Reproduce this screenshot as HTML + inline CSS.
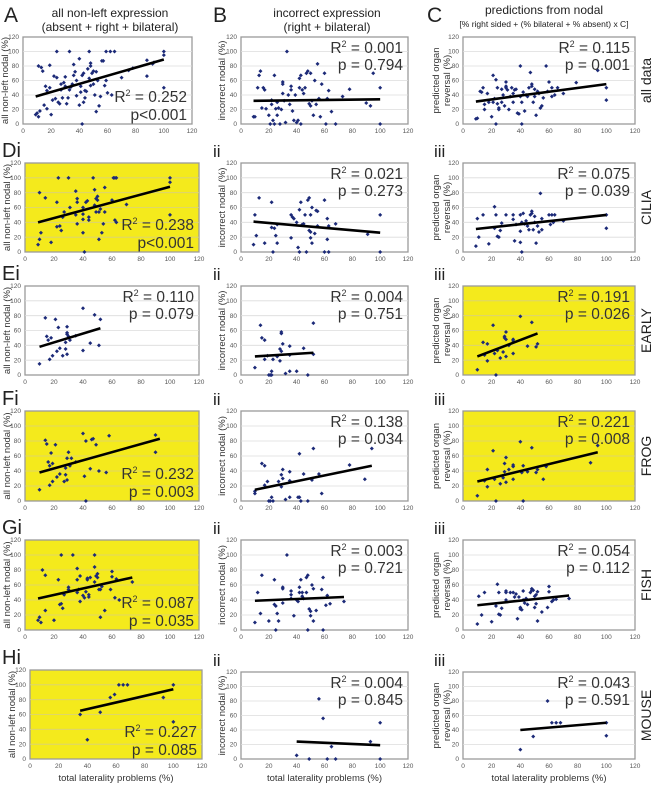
<!DOCTYPE html>
<html><head><meta charset="utf-8"><style>
html,body{margin:0;padding:0;background:#fff;}
svg{display:block;font-family:"Liberation Sans",sans-serif;}
</style></head><body>
<svg id="fig" width="659" height="785" viewBox="0 0 659 785" xmlns="http://www.w3.org/2000/svg">
<g fill="#222">
<text x="4" y="22" font-size="21">A</text>
<text x="110" y="17" font-size="12" text-anchor="middle">all non-left expression</text>
<text x="110" y="31" font-size="12" text-anchor="middle">(absent + right + bilateral)</text>
<text x="213" y="22" font-size="21">B</text>
<text x="327" y="17" font-size="12" text-anchor="middle">incorrect expression</text>
<text x="327" y="31" font-size="12" text-anchor="middle">(right + bilateral)</text>
<text x="427" y="22" font-size="21">C</text>
<text x="544" y="14" font-size="12" text-anchor="middle">predictions from nodal</text>
<text x="544" y="27" font-size="8.5" text-anchor="middle">[% right sided + (% bilateral + % absent) x C]</text>
</g>
<g id="panels"></g>
</svg>
<script>
// ---- data (x = total laterality problems %, y = panel measure %) ----
const ptsA_A=[[9,13],[10,15],[11,10],[12,18],[11,80],[13,78],[14,73],[15,26],[16,52],[17,46],[17,21],[19,81],[19,50],[20,13],[21,33],[22,66],[23,35],[24,64],[24,100],[25,30],[26,28],[27,55],[27,47],[28,36],[29,57],[30,65],[30,52],[31,28],[32,36],[33,100],[33,47],[34,51],[35,55],[36,82],[36,67],[37,72],[38,39],[38,60],[40,90],[40,26],[41,44],[41,52],[42,0],[42,67],[43,70],[43,30],[44,46],[44,36],[45,45],[46,76],[47,63],[47,100],[48,84],[48,80],[48,53],[49,70],[50,73],[50,55],[51,40],[52,72],[52,17],[53,60],[54,25],[55,38],[56,87],[57,87],[58,53],[59,100],[59,60],[60,43],[62,100],[63,40],[65,100],[70,64],[75,74],[78,77],[88,66],[88,88],[92,83],[93,85],[100,100],[100,95],[100,50]];
const ptsA_B=[[9,10],[10,10],[12,50],[13,67],[14,73],[15,22],[16,50],[17,47],[18,21],[20,12],[21,0],[22,27],[22,33],[23,5],[24,67],[24,0],[25,21],[26,30],[26,12],[27,22],[28,0],[29,20],[30,58],[30,55],[30,42],[31,32],[32,2],[33,100],[34,40],[35,27],[36,52],[36,47],[37,18],[38,5],[39,40],[40,2],[41,5],[42,50],[42,63],[43,67],[43,0],[44,47],[45,42],[46,50],[47,70],[48,73],[49,28],[50,70],[50,25],[51,32],[52,12],[53,60],[54,27],[55,83],[56,35],[57,10],[58,55],[60,70],[61,0],[62,35],[63,46],[65,17],[68,0],[73,38],[78,48],[90,29],[93,25],[95,70],[100,50],[100,0]];
const ptsA_C=[[9,7],[10,8],[12,45],[13,44],[14,50],[15,20],[15,27],[17,42],[18,30],[20,10],[21,67],[21,30],[22,35],[23,0],[23,61],[24,50],[24,28],[25,20],[25,22],[27,48],[27,30],[28,40],[29,25],[30,58],[30,50],[30,52],[31,47],[32,20],[33,38],[34,50],[35,42],[35,30],[36,47],[37,48],[38,15],[39,14],[40,80],[40,38],[41,30],[41,0],[42,44],[43,18],[44,40],[45,38],[46,50],[47,71],[48,55],[48,52],[49,30],[50,48],[50,38],[51,12],[52,45],[53,42],[54,22],[55,25],[56,36],[58,80],[59,45],[60,58],[62,50],[62,38],[64,40],[66,50],[70,42],[79,57],[94,74],[100,50],[100,33]];
const ptsD_A=[[9,10],[10,80],[10,17],[11,26],[14,73],[18,13],[22,67],[22,34],[23,100],[24,35],[25,29],[26,47],[27,54],[30,100],[31,60],[35,82],[35,50],[36,72],[36,67],[36,38],[40,60],[40,51],[40,44],[40,26],[41,0],[42,67],[43,69],[44,47],[44,43],[47,100],[48,84],[48,63],[49,54],[49,72],[50,75],[50,70],[51,17],[51,54],[52,58],[53,26],[54,38],[55,87],[55,54],[60,70],[61,100],[62,43],[62,100],[63,40],[63,100],[70,64],[100,100],[100,94],[100,50]];
const ptsD_B=[[9,10],[10,50],[11,22],[13,73],[17,12],[22,67],[22,33],[23,0],[24,32],[25,22],[26,12],[26,37],[36,19],[36,50],[37,47],[38,45],[40,40],[41,6],[42,0],[42,57],[43,67],[44,37],[45,38],[46,50],[47,0],[48,70],[49,29],[49,73],[50,19],[50,50],[50,27],[51,60],[51,12],[53,25],[54,56],[55,55],[55,35],[60,70],[60,0],[62,45],[62,17],[63,0],[63,35],[68,38],[91,24],[100,50],[100,0]];
const ptsD_C=[[9,8],[10,45],[11,20],[14,50],[18,11],[22,61],[22,32],[23,50],[24,21],[25,20],[26,29],[27,39],[30,50],[35,50],[35,44],[36,15],[37,37],[40,50],[40,28],[40,13],[41,0],[41,40],[42,52],[43,38],[44,42],[45,35],[46,30],[47,50],[48,52],[48,55],[49,30],[50,40],[50,48],[51,12],[52,35],[53,27],[54,79],[55,30],[55,45],[60,50],[61,37],[62,50],[63,40],[64,50],[70,42],[100,50],[100,32]];
const ptsE_A=[[10,15],[14,77],[15,52],[16,47],[17,21],[18,50],[19,26],[21,75],[22,32],[23,64],[24,36],[26,26],[28,35],[28,44],[29,57],[29,55],[29,65],[29,28],[30,52],[31,47],[35,53],[40,90],[40,33],[45,43],[48,81],[51,40],[52,75]];
const ptsE_B=[[10,10],[14,67],[15,50],[17,47],[17,21],[19,26],[20,0],[21,0],[22,5],[22,0],[23,21],[26,25],[28,35],[28,19],[29,56],[29,58],[29,32],[30,42],[32,2],[35,39],[35,5],[35,27],[40,5],[45,36],[48,0],[52,70],[52,28]];
const ptsE_C=[[10,7],[14,44],[15,27],[17,19],[17,42],[21,67],[22,29],[23,0],[24,33],[26,23],[28,31],[29,50],[29,52],[30,58],[30,25],[30,48],[32,40],[35,46],[35,48],[35,29],[40,79],[45,39],[48,71],[51,38],[52,42]];
const ptsF_A=[[10,15],[14,81],[15,76],[16,52],[17,47],[17,21],[18,64],[19,50],[19,26],[21,75],[22,32],[24,36],[27,26],[28,35],[28,44],[29,57],[29,28],[30,65],[31,47],[32,57],[35,52],[40,90],[41,33],[42,0],[42,80],[45,43],[46,82],[47,83],[49,75],[51,40],[56,38],[58,87],[90,88],[90,65]];
const ptsF_B=[[10,10],[10,13],[15,50],[17,47],[17,21],[19,26],[20,0],[21,0],[22,5],[23,0],[27,26],[29,35],[29,19],[30,42],[30,30],[32,2],[35,39],[35,5],[35,27],[41,5],[42,5],[42,63],[43,0],[45,36],[48,0],[51,28],[52,70],[56,36],[58,10],[78,48],[89,29],[94,70]];
const ptsF_C=[[10,7],[15,27],[17,19],[17,42],[21,67],[22,29],[23,0],[26,23],[28,31],[29,50],[29,39],[30,58],[30,25],[32,42],[35,46],[35,48],[35,29],[40,79],[41,38],[42,0],[42,47],[45,39],[48,71],[51,38],[52,42],[56,29],[58,46],[89,51],[94,74]];
const ptsG_A=[[9,13],[10,17],[11,10],[12,80],[14,73],[14,26],[20,13],[23,67],[24,34],[25,100],[25,35],[26,29],[27,47],[30,57],[30,54],[33,100],[36,82],[36,67],[36,50],[37,54],[38,72],[38,38],[40,46],[41,43],[42,51],[43,67],[43,69],[44,47],[44,44],[45,70],[48,100],[48,84],[48,64],[49,72],[50,75],[50,70],[51,54],[52,17],[52,54],[53,58],[55,26],[59,54],[60,78],[60,71],[62,43],[63,68],[65,40],[74,64]];
const ptsG_B=[[10,10],[12,50],[14,22],[15,73],[20,12],[24,67],[24,34],[25,32],[25,0],[26,22],[27,12],[30,57],[30,55],[30,36],[33,100],[36,52],[36,47],[36,42],[38,19],[40,40],[41,38],[42,50],[42,57],[43,67],[44,50],[44,45],[45,42],[47,50],[47,70],[48,0],[48,73],[49,28],[50,25],[50,19],[51,60],[52,12],[52,55],[54,26],[58,54],[59,70],[59,0],[61,33],[62,46],[64,35],[74,38]];
const ptsG_C=[[10,8],[11,45],[13,20],[15,50],[20,11],[23,32],[24,61],[25,50],[25,21],[26,20],[27,29],[30,52],[30,50],[30,40],[33,50],[35,50],[36,44],[37,48],[38,15],[39,44],[40,28],[40,30],[41,27],[42,52],[42,40],[43,36],[44,42],[45,34],[47,50],[48,55],[48,53],[49,53],[50,30],[50,45],[51,35],[51,47],[52,12],[52,51],[55,24],[59,30],[60,58],[60,51],[62,38],[63,40],[65,41],[74,42]];
const ptsH_A=[[35,60],[40,26],[49,63],[56,83],[59,87],[62,100],[65,100],[68,100],[93,83],[100,100],[100,50]];
const ptsH_B=[[40,5],[49,0],[56,83],[59,56],[62,0],[65,17],[68,0],[93,24],[100,50],[100,0]];
const ptsH_C=[[40,13],[49,31],[59,80],[62,50],[65,50],[68,50],[100,50],[100,32]];
// trend line endpoints [x1,y1,x2,y2]
const trendA=[[9,38,100,89],[9,32,100,34],[9,31,100,55]];
const trendD=[[9,40,100,88],[9,41,100,26],[9,31,100,50]];
const trendE=[[10,38,52,63],[10,25,52,30],[10,25,52,56]];
const trendF=[[10,38,93,83],[10,15,94,47],[10,26,94,65]];
const trendG=[[9,42,74,70],[10,39,74,44],[10,33,74,46]];
const trendH=[[35,65,100,94],[40,24,100,19],[40,40,100,50]];
const statsR2=[["0.252","0.001","0.115"],["0.238","0.021","0.075"],["0.110","0.004","0.191"],["0.232","0.138","0.221"],["0.087","0.003","0.054"],["0.227","0.004","0.043"]];
const statsP=[["p<0.001","p = 0.794","p = 0.001"],["p<0.001","p = 0.273","p = 0.039"],["p = 0.079","p = 0.751","p = 0.026"],["p = 0.003","p = 0.034","p = 0.008"],["p = 0.035","p = 0.721","p = 0.112"],["p = 0.085","p = 0.845","p = 0.591"]];
const xTicks=[0,20,40,60,80,100,120];
const yTicks=[0,20,40,60,80,100,120];
const rowNames=["all data","CILIA","EARLY","FROG","FISH","MOUSE"];
const rowLetters=["","D","E","F","G","H"];

const pts=[[ptsA_A,ptsA_B,ptsA_C],[ptsD_A,ptsD_B,ptsD_C],[ptsE_A,ptsE_B,ptsE_C],[ptsF_A,ptsF_B,ptsF_C],[ptsG_A,ptsG_B,ptsG_C],[ptsH_A,ptsH_B,ptsH_C]];
const trends=[trendA,trendD,trendE,trendF,trendG,trendH];
// layout
const rowsY=[[37,124],[163,252],[286,375],[411,501],[540,630],[672,759]];
const colsX=[[25,199],[241,408],[463,635]];
const yellow={"1-0":1,"2-2":1,"3-0":1,"3-2":1,"4-0":1,"5-0":1};
const bottomStats={"0-0":1,"1-0":1,"3-0":1,"4-0":1,"5-0":1};
const NS="http://www.w3.org/2000/svg";
const root=document.getElementById('panels');
function mk(tag,attrs,parent){const e=document.createElementNS(NS,tag);for(const k in attrs)e.setAttribute(k,attrs[k]);parent.appendChild(e);return e;}
for(let r=0;r<6;r++){for(let c=0;c<3;c++){
  let [x0,x1]=colsX[c];let [yT,yB]=rowsY[r];
  if(r===0&&c===0){x0=23;x1=192;}
  if(r===5&&c===0){x0=30;x1=202;yT=670;}
  const sx=v=>x0+(v/120)*(x1-x0);
  const sy=v=>yB-(v/120)*(yB-yT);
  const g=mk('g',{},root);
  
  
  const bg=mk('rect',{x:x0,y:yT,width:x1-x0,height:yB-yT,fill:yellow[r+'-'+c]?'#f4ea1c':'#fff',stroke:'#9a9a9a','stroke-width':1.3},g);
  
  
  yTicks.forEach(t=>{
    if(t>0&&t<120){const l=mk('line',{x1:x0,x2:x1,y1:sy(t),y2:sy(t),stroke:yellow[r+'-'+c]?'#d8d080':'#dcdcdc','stroke-width':0.8},g);
      
      }
    const tl=mk('text',{x:x0-4,y:sy(t)+2.2,'font-size':6.5,'text-anchor':'end',fill:'#555'},g);tl.textContent=t;
    
    
  });
  xTicks.forEach(t=>{const tl=mk('text',{x:sx(t),y:yB+9,'font-size':6.5,'text-anchor':'middle',fill:'#555'},g);tl.textContent=t;
    
    });
  pts[r][c].forEach(p=>{const d=mk('path',{d:`M${sx(p[0])-2},${sy(p[1])}L${sx(p[0])},${sy(p[1])-2}L${sx(p[0])+2},${sy(p[1])}L${sx(p[0])},${sy(p[1])+2}Z`,fill:'#1c2a78'},g);
    
    });
  const t=trends[r][c];
  const tl=mk('line',{x1:sx(t[0]),y1:sy(t[1]),x2:sx(t[2]),y2:sy(t[3]),stroke:'#000','stroke-width':2.6},g);
  
  
  const bottom=bottomStats[r+'-'+c];
  const ty1=bottom?yB-22:yT+16, ty2=bottom?yB-4:yT+33;
  const s1=mk('text',{x:x1-5,y:ty1,'font-size':15.5,'text-anchor':'end',fill:'#333'},g);
  s1.innerHTML='R<tspan dy="-6" font-size="9">2</tspan><tspan dy="6"> = '+statsR2[r][c]+'</tspan>';
  
  
  const s2=mk('text',{x:x1-5,y:ty2,'font-size':15.5,'text-anchor':'end',fill:'#333'},g);
  s2.textContent=statsP[r][c];
  
  
  // y axis title
  const cy=(yT+yB)/2;
  if(c===0){const yt=mk('text',{x:0,y:0,'font-size':9.5,'text-anchor':'middle',fill:'#333',transform:`translate(${x0-15},${cy}) rotate(-90)`},g);yt.textContent='all non-left nodal  (%)';
    
    }
  else if(c===1){const yt=mk('text',{x:0,y:0,'font-size':9.5,'text-anchor':'middle',fill:'#333',transform:`translate(${x0-16},${cy}) rotate(-90)`},g);yt.textContent='incorrect nodal (%)';
    
    }
  else {const yt=mk('text',{x:0,y:0,'font-size':9.5,'text-anchor':'middle',fill:'#333',transform:`translate(${x0-24},${cy}) rotate(-90)`},g);
    yt.innerHTML='<tspan x="0" dy="0">predicted organ</tspan><tspan x="0" dy="11">reversal (%)</tspan>';
    
    }
  if(r===5){const xt=mk('text',{x:(x0+x1)/2,y:yB+22,'font-size':9.5,'text-anchor':'middle',fill:'#333'},g);xt.textContent='total laterality problems (%)';
    
    }
  if(r>0){const lab=mk('text',{x:c===0?2:(c===1?213:434),y:yT-6,'font-size':c===0?20:17,fill:'#222'},g);
    lab.textContent=c===0?rowLetters[r]+'i':(c===1?'ii':'iii');
    
    }
}
  const [yT,yB]=rowsY[r];
  const rn=mk('text',{x:0,y:0,'font-size':14,'text-anchor':'middle',fill:'#222',transform:`translate(651,${(yT+yB)/2}) rotate(-90)`},root);
  rn.textContent=rowNames[r];
  
  
}
</script>
</body></html>
